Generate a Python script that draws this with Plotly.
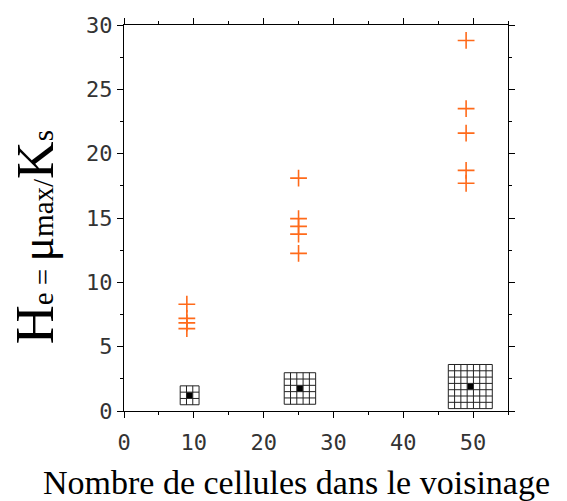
import plotly.graph_objects as go

# --- data ---
neigh_x = [9, 9, 9, 9, 25, 25, 25, 25, 25, 49, 49, 49, 49, 49]
he_vals = [8.3, 7.2, 6.85, 6.4, 18.1, 14.95, 14.35, 13.75, 12.25, 28.8, 23.5, 21.6, 18.7, 17.7]

icon_x = [9.4, 25.2, 49.6]
icon_y = [1.22, 1.75, 1.9]
icon_n = [3, 5, 7]  # neighbourhood side (3x3, 5x5, 7x7)

x_ticks = [0, 10, 20, 30, 40, 50]
y_ticks = [0, 5, 10, 15, 20, 25, 30]

fig = go.Figure()

fig.add_trace(go.Scatter(
    x=neigh_x, y=he_vals, mode="markers",
    marker=dict(symbol="cross-thin", size=12, line=dict(color="#ff6a1a", width=1.6)),
    showlegend=False, hoverinfo="x+y",
))

# neighbourhood grid icons around the black squares
cw, ch = 0.9, 0.49
shapes = []
for cx, cy, n in zip(icon_x, icon_y, icon_n):
    x0, x1 = cx - n * cw / 2, cx + n * cw / 2
    y0, y1 = cy - n * ch / 2, cy + n * ch / 2
    for i in range(n + 1):
        xv = x0 + i * cw
        shapes.append(dict(type="line", xref="x", yref="y", x0=xv, x1=xv, y0=y0, y1=y1,
                           line=dict(color="#222", width=1)))
        yv = y0 + i * ch
        shapes.append(dict(type="line", xref="x", yref="y", x0=x0, x1=x1, y0=yv, y1=yv,
                           line=dict(color="#222", width=1)))

fig.add_trace(go.Scatter(
    x=icon_x, y=icon_y, mode="markers",
    marker=dict(symbol="square", size=6, color="black"),
    showlegend=False,
))

tickfont = dict(family="DejaVu Sans Mono", size=22, color="#333")
axis_common = dict(
    showline=True, linecolor="black", linewidth=1.2, mirror="ticks",
    ticks="outside", ticklen=6, tickwidth=1, tickcolor="black",
    showgrid=False, zeroline=False, tickfont=tickfont, automargin=False,
)

fig.update_layout(
    width=559, height=493, autosize=False,
    margin=dict(l=116, r=59, t=17, b=90),
    plot_bgcolor="white", paper_bgcolor="white",
    shapes=shapes,
    xaxis=dict(range=[0, 55], tickvals=x_ticks, ticktext=[str(v) for v in x_ticks],
               minor=dict(dtick=5, ticklen=3, ticks="outside", tickcolor="black"),
               ticklabelstandoff=5,
               **axis_common),
    yaxis=dict(range=[0, 30], tickvals=y_ticks, ticktext=[str(v) for v in y_ticks],
               minor=dict(dtick=2.5, ticklen=3, ticks="outside", tickcolor="black"),
               **axis_common),
    annotations=[
        dict(
            text="Nombre de cellules dans le voisinage",
            xref="paper", yref="paper", x=0.4505, y=0, yshift=-71,
            xanchor="center", yanchor="middle", showarrow=False,
            font=dict(family="Liberation Serif", size=34, color="black"),
        ),
        dict(
            text=('<span style="font-size:54px">H</span>'
                  '<span style="font-size:29px">e = </span>'
                  '<span style="font-size:46px">μ</span>'
                  '<span style="font-size:29px">max/</span>'
                  '<span style="font-size:52px">K</span>'
                  '<span style="font-size:29px">s</span>'),
            textangle=-90, xref="paper", yref="paper", x=0, y=0.45,
            xanchor="center", yanchor="middle", xshift=-89, showarrow=False,
            font=dict(family="Liberation Serif", size=29, color="black"),
        ),
    ],
)

fig.write_html("out.html")
